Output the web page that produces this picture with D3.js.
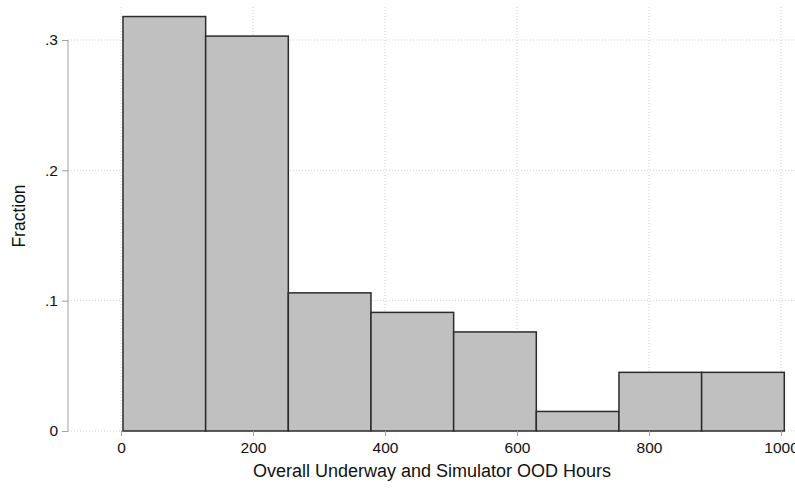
<!DOCTYPE html>
<html>
<head>
<meta charset="utf-8">
<script src="https://cdn.jsdelivr.net/npm/d3@7"></script>
<style>
  body { margin: 0; background: #fff; }
  svg { display: block; font-family: "Liberation Sans", Arial, Helvetica, sans-serif; }
</style>
</head>
<body>
<svg id="chart" width="795" height="489"></svg>
<script>
// histogram bins: first edge + width, fraction per bin
const binStart = 3;
const binWidth = 125.25;
const fractions = [0.318, 0.303, 0.106, 0.091, 0.076, 0.015, 0.045, 0.045];
const xTicks = [0, 200, 400, 600, 800, 1000];
const yTicks = [0, 0.1, 0.2, 0.3];
const yTickLabels = ["0", ".1", ".2", ".3"];

const svg = d3.select("#chart");
const W = 795, H = 489;

const x = d3.scaleLinear().domain([0, 1000]).range([121, 781]);
const y = d3.scaleLinear().domain([0, 0.3]).range([431, 40]);

const plotTop = 7, plotRight = W;
const axisX = 68;

// grid
svg.append("g").selectAll("line")
  .data(yTicks)
  .enter().append("line")
  .attr("x1", axisX).attr("x2", plotRight)
  .attr("y1", d => y(d)).attr("y2", d => y(d))
  .attr("stroke", "#d4d4d4")
  .attr("stroke-width", 1)
  .attr("stroke-dasharray", "1,2");

svg.append("g").selectAll("line")
  .data(xTicks)
  .enter().append("line")
  .attr("x1", d => x(d)).attr("x2", d => x(d))
  .attr("y1", plotTop).attr("y2", y(0))
  .attr("stroke", "#d4d4d4")
  .attr("stroke-width", 1)
  .attr("stroke-dasharray", "1,2");

// bars
const bins = fractions.map((f, i) => ({ x0: binStart + i * binWidth, x1: binStart + (i + 1) * binWidth, f: f }));

svg.append("g").selectAll("rect")
  .data(bins)
  .enter().append("rect")
  .attr("x", d => x(d.x0))
  .attr("y", d => y(d.f))
  .attr("width", d => x(d.x1) - x(d.x0))
  .attr("height", d => y(0) - y(d.f))
  .attr("fill", "#c0c0c0")
  .attr("stroke", "#2b2b2b")
  .attr("stroke-width", 1.5);

// y axis
const yAxis = d3.axisLeft(y)
  .tickValues(yTicks)
  .tickFormat((d, i) => yTickLabels[i])
  .tickSize(6)
  .tickPadding(4);

const gy = svg.append("g")
  .attr("transform", "translate(" + axisX + ",0)")
  .call(yAxis);
gy.select(".domain").attr("stroke", "#a0a0a0").attr("d", "M0," + y(0.3) + "V" + y(0));
gy.selectAll(".tick line").attr("stroke", "#a0a0a0");
gy.selectAll(".tick text").attr("font-size", 15.5).attr("fill", "#111").attr("font-family", null);

// x axis
const xAxis = d3.axisBottom(x)
  .tickValues(xTicks)
  .tickFormat(d3.format("d"))
  .tickSize(5)
  .tickPadding(6);

const gx = svg.append("g")
  .attr("transform", "translate(0," + y(0) + ")")
  .call(xAxis);
gx.select(".domain").remove();
gx.selectAll(".tick line").attr("stroke", "#a0a0a0");
gx.selectAll(".tick text").attr("font-size", 15.5).attr("fill", "#111").attr("font-family", null);

// titles
svg.append("text")
  .attr("x", 432).attr("y", 477)
  .attr("text-anchor", "middle")
  .attr("font-size", 18)
  .attr("fill", "#111")
  .text("Overall Underway and Simulator OOD Hours");

svg.append("text")
  .attr("transform", "translate(25,216) rotate(-90)")
  .attr("text-anchor", "middle")
  .attr("font-size", 17.5)
  .attr("fill", "#111")
  .text("Fraction");
</script>
</body>
</html>
